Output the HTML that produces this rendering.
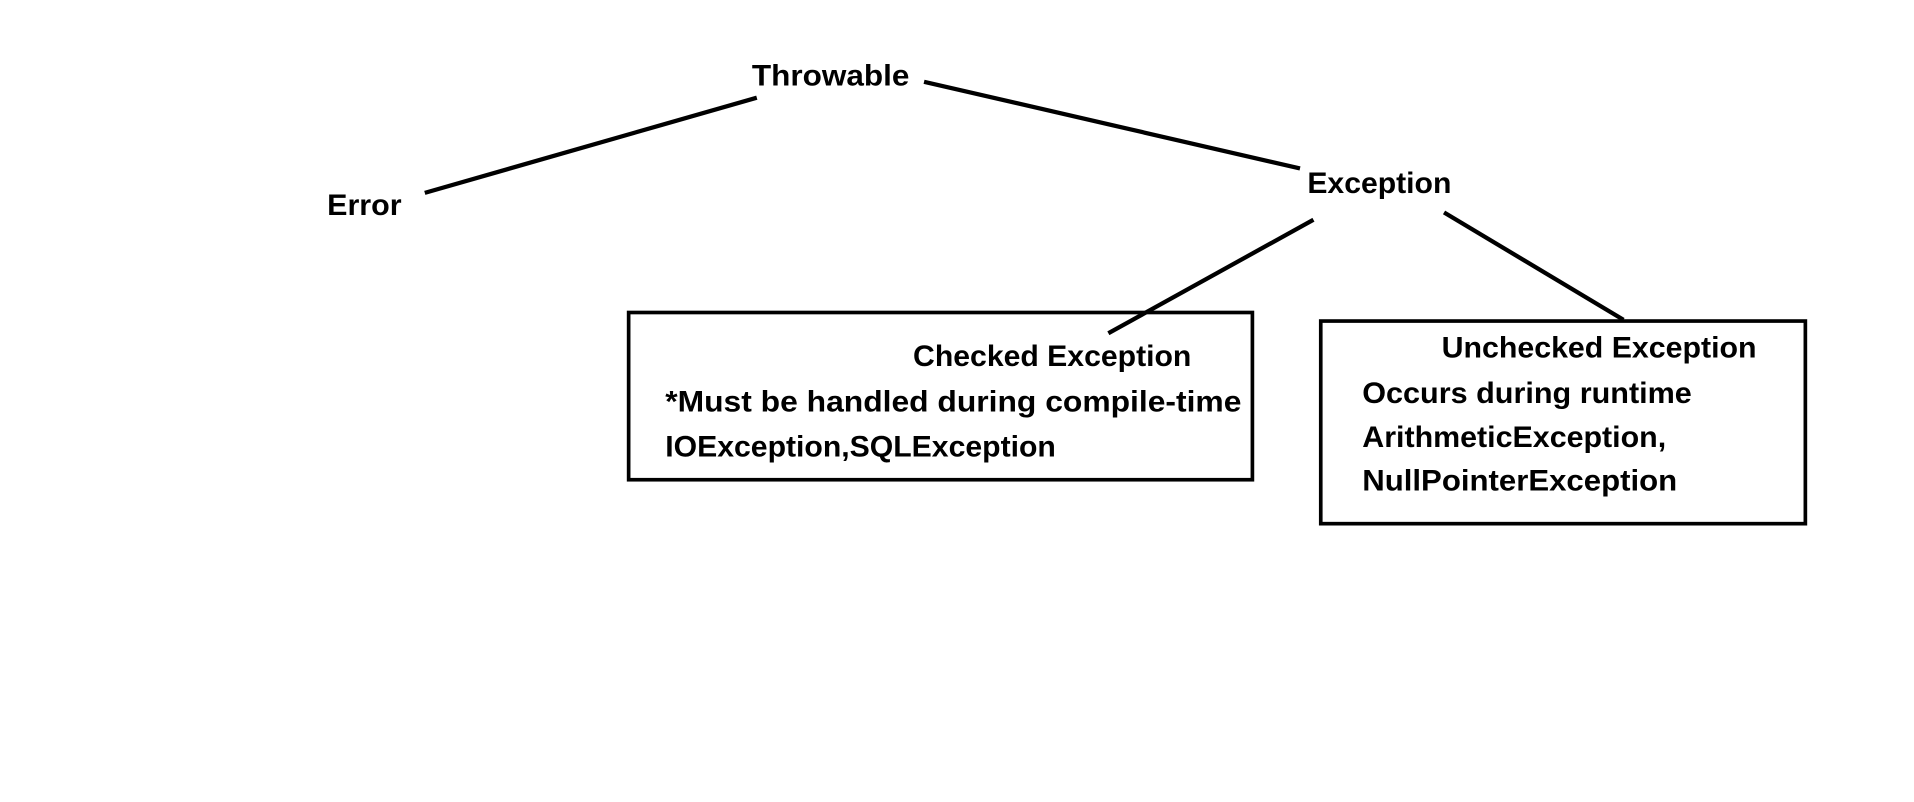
<!DOCTYPE html>
<html><head><meta charset="utf-8"><style>
html,body{margin:0;padding:0;background:#fff;}
svg{display:block;}
text{font-family:"Liberation Sans",sans-serif;font-weight:bold;font-size:24px;fill:#000;}
</style></head><body>
<svg width="1914" height="802" viewBox="0 0 1568 657" preserveAspectRatio="none">
<g stroke="#000" stroke-width="3.5" fill="none">
<line x1="348" y1="158" x2="620" y2="80"/>
<line x1="757" y1="67" x2="1065" y2="138"/>
<line x1="1076" y1="180" x2="908" y2="273"/>
<line x1="1183" y1="174" x2="1330" y2="262"/>
<rect x="515" y="256" width="511" height="137" stroke-width="3"/>
<rect x="1082" y="263" width="397" height="166" stroke-width="3"/>
</g>
<text x="616" y="70" textLength="129" lengthAdjust="spacingAndGlyphs">Throwable</text>
<text x="268" y="176" textLength="61" lengthAdjust="spacingAndGlyphs">Error</text>
<text x="1071" y="158" textLength="118" lengthAdjust="spacingAndGlyphs">Exception</text>
<text x="748" y="300" textLength="228" lengthAdjust="spacingAndGlyphs">Checked Exception</text>
<text x="545" y="337" textLength="472" lengthAdjust="spacingAndGlyphs">*Must be handled during compile-time</text>
<text x="545" y="374" textLength="320" lengthAdjust="spacingAndGlyphs">IOException,SQLException</text>
<text x="1181" y="293" textLength="258" lengthAdjust="spacingAndGlyphs">Unchecked Exception</text>
<text x="1116" y="330" textLength="270" lengthAdjust="spacingAndGlyphs">Occurs during runtime</text>
<text x="1116" y="366" textLength="249" lengthAdjust="spacingAndGlyphs">ArithmeticException,</text>
<text x="1116" y="402" textLength="258" lengthAdjust="spacingAndGlyphs">NullPointerException</text>
</svg>
</body></html>
